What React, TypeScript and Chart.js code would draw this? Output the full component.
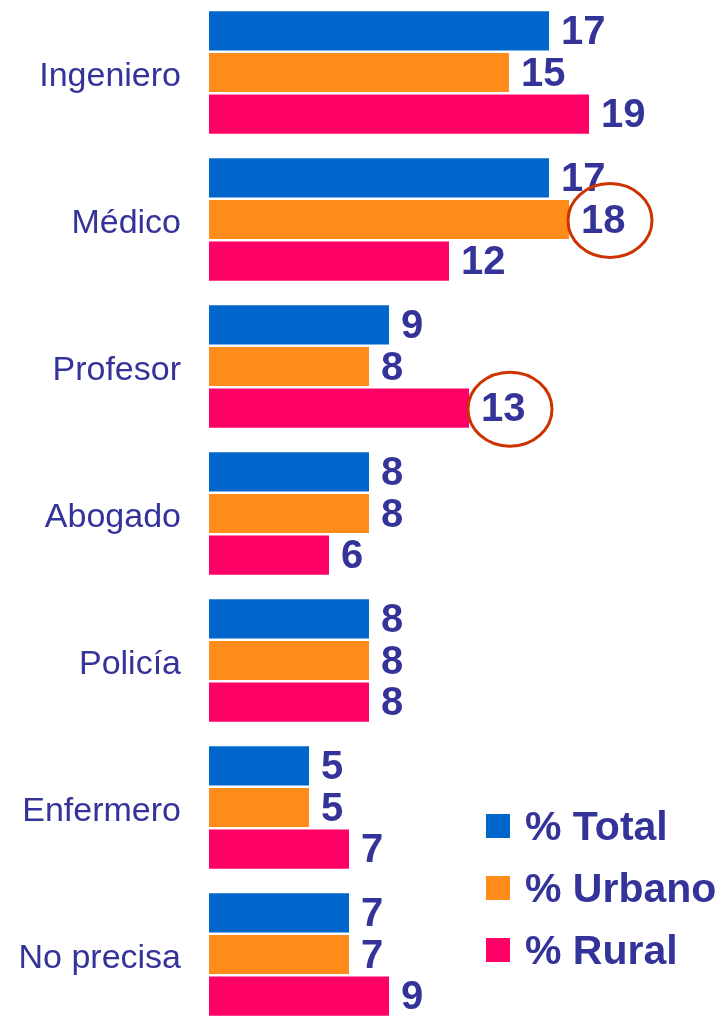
import React, { useEffect, useRef } from "react";
import { Chart, registerables } from "chart.js";

Chart.register(...registerables);

const categories = ["Ingeniero", "Médico", "Profesor", "Abogado", "Policía", "Enfermero", "No precisa"];
const totalValues = [17, 17, 9, 8, 8, 5, 7];
const urbanoValues = [15, 18, 8, 8, 8, 5, 7];
const ruralValues = [19, 12, 13, 6, 8, 7, 9];
const seriesNames = ["% Total", "% Urbano", "% Rural"];
const seriesColors = ["#0066CC", "#FF8C1A", "#FF0066"];
// highlighted (circled) values: [datasetIndex, categoryIndex]
const circled: [number, number][] = [
  [1, 1],
  [2, 2],
];

const TEXT_COLOR = "#333399";
const FONT = "'Liberation Sans', Arial, sans-serif";

const valueLabelPlugin = {
  id: "valueLabels",
  afterDatasetsDraw(chart: any) {
    const ctx = chart.ctx;
    ctx.save();
    ctx.font = `bold 40px ${FONT}`;
    ctx.fillStyle = TEXT_COLOR;
    ctx.textBaseline = "middle";
    ctx.textAlign = "left";
    chart.data.datasets.forEach((ds: any, di: number) => {
      const meta = chart.getDatasetMeta(di);
      meta.data.forEach((bar: any, i: number) => {
        ctx.fillText(String(ds.data[i]), bar.x + 12, bar.y + 2);
      });
    });
    ctx.strokeStyle = "#CC3300";
    ctx.lineWidth = 3;
    circled.forEach(([di, i]) => {
      const bar = chart.getDatasetMeta(di).data[i];
      ctx.beginPath();
      ctx.ellipse(bar.x + 41, bar.y + 1, 42, 37, 0, 0, Math.PI * 2);
      ctx.stroke();
    });
    ctx.restore();
  },
};

export default function App() {
  const ref = useRef<HTMLCanvasElement>(null);
  useEffect(() => {
    if (!ref.current) return;
    const values = [totalValues, urbanoValues, ruralValues];
    const chart = new Chart(ref.current, {
      type: "bar",
      data: {
        labels: categories,
        datasets: values.map((v, k) => ({
          label: seriesNames[k],
          data: v,
          backgroundColor: seriesColors[k],
          borderWidth: 0,
          categoryPercentage: 0.85,
          barPercentage: 0.94,
        })),
      },
      options: {
        indexAxis: "y",
        responsive: false,
        animation: false,
        layout: { padding: { left: 0, right: 14, top: 0, bottom: 0 } },
        plugins: { legend: { display: false }, tooltip: { enabled: false } },
        scales: {
          x: { display: false, min: 0, max: 25 },
          y: {
            grid: { display: false, drawTicks: false },
            border: { display: false },
            ticks: {
              padding: 28,
              labelOffset: 4,
              color: TEXT_COLOR,
              font: { family: FONT, size: 34 },
            },
            afterFit(scale: any) {
              scale.width = 209;
              scale.paddingTop = 0;
              scale.paddingBottom = 0;
            },
          },
        },
      },
      plugins: [valueLabelPlugin],
    } as any);
    return () => chart.destroy();
  }, []);

  return (
    <div
      style={{
        position: "absolute",
        left: 0,
        top: 0,
        width: 723,
        height: 1016,
        overflow: "hidden",
        background: "#fff",
      }}
    >
      <canvas
        ref={ref}
        width={723}
        height={1029}
        style={{ position: "absolute", left: 0, top: -1, width: 723, height: 1029 }}
      />
      {seriesNames.map((name, k) => (
        <div
          key={name}
          style={{
            position: "absolute",
            left: 486,
            top: 803 + k * 62,
            height: 46,
            display: "flex",
            alignItems: "center",
            fontFamily: FONT,
            fontWeight: "bold",
            fontSize: 41,
            color: TEXT_COLOR,
            whiteSpace: "nowrap",
          }}
        >
          <span
            style={{
              display: "inline-block",
              width: 24,
              height: 24,
              background: seriesColors[k],
              marginRight: 15,
            }}
          />
          <span>{name}</span>
        </div>
      ))}
    </div>
  );
}
